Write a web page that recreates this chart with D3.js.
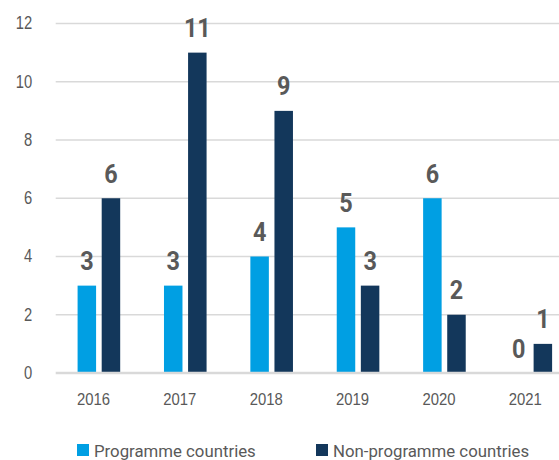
<!DOCTYPE html>
<html>
<head>
<meta charset="utf-8">
<script src="https://cdn.jsdelivr.net/npm/d3@7"></script>
<style>
  body { margin: 0; background: #fff; }
  svg { display: block; font-family: "Roboto", sans-serif; }
</style>
</head>
<body>
<svg id="chart"></svg>
<script>
// Chart data
const years = ["2016", "2017", "2018", "2019", "2020", "2021"];
const programme_values = [3, 3, 4, 5, 6, 0];
const non_programme_values = [6, 11, 9, 3, 2, 1];
const y_ticks = [0, 2, 4, 6, 8, 10, 12];
const series_names = ["Programme countries", "Non-programme countries"];
const series_colors = ["#009fe3", "#13375b"];

// Dimensions
const width = 559, height = 460;
const plot = { left: 55.7, right: 574, top: 23.5, bottom: 373 };

const svg = d3.select("#chart")
    .attr("width", width)
    .attr("height", height);

// Squeeze text horizontally to mimic the condensed face of the original
function condense(selection, factor) {
    selection.each(function() {
        const len = this.getComputedTextLength();
        d3.select(this)
            .attr("textLength", len * factor)
            .attr("lengthAdjust", "spacingAndGlyphs");
    });
}

// Scales
const x_scale = d3.scaleBand()
    .domain(years)
    .range([plot.left, plot.right]);
const y_scale = d3.scaleLinear()
    .domain([0, 12])
    .range([plot.bottom, plot.top]);

const bar_width = 18.5, half_gap = 2.8;

// Gridlines
svg.append("g")
    .selectAll("line")
    .data(y_ticks.filter(d => d > 0))
    .enter()
    .append("line")
    .attr("x1", plot.left)
    .attr("x2", width)
    .attr("y1", d => y_scale(d))
    .attr("y2", d => y_scale(d))
    .attr("stroke", "#d9d9d9")
    .attr("stroke-width", 1.3);

// Y axis labels
const y_axis = d3.axisLeft(y_scale).tickValues(y_ticks).tickSize(0).tickPadding(23.5);
const y_group = svg.append("g")
    .attr("transform", `translate(${plot.left}, 0)`)
    .call(y_axis);
y_group.select(".domain").remove();
y_group.selectAll("text")
    .attr("fill", "#595959")
    .attr("dy", "0.3em")
    .style("font-size", "18px")
    .style("font-family", "inherit")
    .call(condense, 0.82);

// Flatten data for the bars
const bar_data = [];
years.forEach((year, i) => {
    bar_data.push({ year: year, series: 0, value: programme_values[i] });
    bar_data.push({ year: year, series: 1, value: non_programme_values[i] });
});
const bar_x = d => {
    const c = x_scale(d.year) + x_scale.bandwidth() / 2;
    return d.series === 0 ? c - half_gap - bar_width : c + half_gap;
};

// Bars
svg.append("g")
    .selectAll("rect")
    .data(bar_data)
    .enter()
    .append("rect")
    .attr("x", bar_x)
    .attr("width", bar_width)
    .attr("y", d => y_scale(d.value))
    .attr("height", d => y_scale(0) - y_scale(d.value))
    .attr("fill", d => series_colors[d.series]);

// Value labels
svg.append("g")
    .selectAll("text")
    .data(bar_data)
    .enter()
    .append("text")
    .attr("x", d => bar_x(d) + bar_width / 2)
    .attr("y", d => y_scale(d.value) - 15.5)
    .attr("text-anchor", "middle")
    .attr("fill", "#595959")
    .style("font-size", "26px")
    .style("font-weight", "bold")
    .text(d => d.value)
    .call(condense, 0.9);

// Baseline
svg.append("line")
    .attr("x1", plot.left)
    .attr("x2", width)
    .attr("y1", y_scale(0))
    .attr("y2", y_scale(0))
    .attr("stroke", "#d9d9d9")
    .attr("stroke-width", 2.5);

// X axis labels
const x_axis = d3.axisBottom(x_scale).tickSize(0).tickPadding(20);
const x_group = svg.append("g")
    .attr("transform", `translate(-5.5, ${plot.bottom})`)
    .call(x_axis);
x_group.select(".domain").remove();
x_group.selectAll("text")
    .attr("fill", "#595959")
    .style("font-size", "16.5px")
    .style("font-family", "inherit")
    .call(condense, 0.9);

// Legend
const legend_x = [77, 316];
const legend = svg.append("g")
    .selectAll("g")
    .data(series_names)
    .enter()
    .append("g")
    .attr("transform", (d, i) => `translate(${legend_x[i]}, 444)`);
legend.append("rect")
    .attr("width", 12)
    .attr("height", 12)
    .attr("fill", (d, i) => series_colors[i]);
legend.append("text")
    .attr("x", 17)
    .attr("y", 12.5)
    .attr("fill", "#595959")
    .style("font-size", "16.8px")
    .text(d => d);
</script>
</body>
</html>
